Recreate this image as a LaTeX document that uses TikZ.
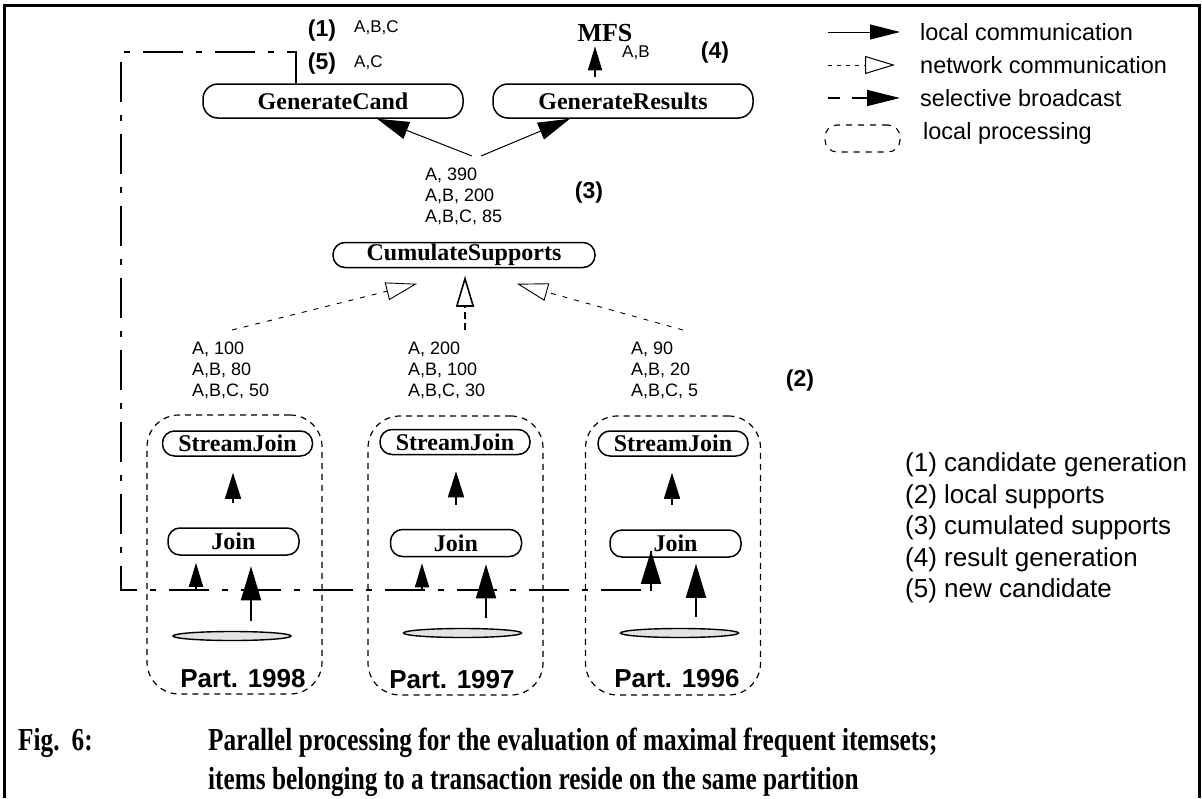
\documentclass[tikz,border=0pt]{standalone}
\usepackage{fontspec}
\setmainfont{Liberation Serif}
\setsansfont{Liberation Sans}
\newfontfamily\capfont[FakeStretch=0.79]{Liberation Serif}
\usetikzlibrary{arrows.meta,shapes.geometric,calc}
\newcommand\setpx[1]{\fontsize{#1pt}{#1pt}\selectfont}

\tikzset{
  proc/.style={draw, line width=1.5pt, rounded corners=12pt, inner sep=0pt,
    font=\setpx{24}\bfseries},
  tallproc/.style={proc, rounded corners=15pt, minimum width=260pt, minimum height=34pt},
  partbox/.style={draw, dash pattern=on 6pt off 5pt, line width=1.2pt,
    rounded corners=32pt, minimum width=175pt, minimum height=279pt},
  disk/.style={ellipse, draw, line width=1.4pt, fill=gray!22,
    minimum width=118pt, minimum height=9pt, inner sep=0pt},
  lab/.style={font=\sffamily\setpx{18}, align=left, anchor=north west, inner sep=0pt},
  small/.style={font=\sffamily\setpx{17}, inner sep=0pt},
  num/.style={font=\sffamily\bfseries\setpx{23}, inner sep=0pt},
  partlab/.style={font=\sffamily\bfseries\setpx{26}, inner sep=0pt},
  legtext/.style={font=\sffamily\setpx{23.5}, anchor=west, inner sep=0pt},
  listtext/.style={font=\sffamily\setpx{26}, anchor=west, inner sep=0pt},
  captext/.style={font=\capfont\bfseries\setpx{32}, anchor=base west, inner sep=0pt},
  loc/.style={line width=1pt, -{Triangle[length=32pt,width=18pt]}},
  upsmall/.style={line width=1.6pt, -{Triangle[length=24pt,width=14pt]}},
  upmid/.style={line width=1.6pt, -{Triangle[length=26pt,width=16pt]}},
  upbig/.style={line width=1.8pt, -{Triangle[length=34pt,width=20pt]}},
  net/.style={line width=0.9pt, dash pattern=on 5pt off 7pt,
    -{Triangle[open,length=31pt,width=18pt,fill=white]}},
  netv/.style={net, line width=1.6pt, dash pattern=on 7pt off 4pt},
  bcast/.style={line width=1.6pt, dash pattern=on 40pt off 13pt on 6pt off 13pt},
}

\begin{document}
\begin{tikzpicture}[x=1pt,y=-1pt]
\useasboundingbox (0,0) rectangle (1202,798);

% open frame
\draw[line width=3pt] (4,798) -- (4,5) -- (1199,5) -- (1199,798);

% ---- top level: candidate and result generation
\node[tallproc] (gc) at (333,101) {GenerateCand};
\node[tallproc] (gr) at (623,101) {GenerateResults};
\node[num] (n1) at (322,31) {(1)};
\node[small, anchor=west] (c1) at (354,28) {A,B,C};
\node[num] (n5) at (322,64) {(5)};
\node[small, anchor=west] (c5) at (354,63) {A,C};
\node[font=\setpx{26}\bfseries, inner sep=0pt] (mfs) at (605,33) {MFS};
\node[small, anchor=west] (mab) at (622,53) {A,B};
\node[num] (n4) at (715,53) {(4)};
\draw[upsmall, shorten <=6pt] ($(gr.north)+(-28,0)$) -- ($(gr.north)+(-28,-37)$);

% ---- cumulation
\node[proc, minimum width=262pt, minimum height=25pt] (cs) at (464,255) {CumulateSupports};
\node[lab] (sum) at (425,168) {A, 390\\[3pt]A,B, 200\\[3pt]A,B,C, 85};
\node[num] (n3) at (589,193) {(3)};
\coordinate (fl) at (472,156);
\coordinate (fr) at (481,156);
\draw[loc] (fl) -- ([xshift=44pt]gc.south);
\draw[loc] (fr) -- ([xshift=-53pt]gr.south);

% ---- network transfer of local supports
\coordinate (w1) at (232,330);
\coordinate (w2) at (465,330);
\coordinate (w3) at (683,330);
\draw[net] (w1) -- ([xshift=-47pt,yshift=-15.5pt]cs.south);
\draw[netv] (w2) -- ([xshift=1pt,yshift=-7.5pt]cs.south);
\draw[net] (w3) -- ([xshift=53pt,yshift=-15.5pt]cs.south);
\node[lab] (l1) at (192,342) {A, 100\\[3pt]A,B, 80\\[3pt]A,B,C, 50};
\node[lab] (l2) at (408,342) {A, 200\\[3pt]A,B, 100\\[3pt]A,B,C, 30};
\node[lab] (l3) at (631,342) {A, 90\\[3pt]A,B, 20\\[3pt]A,B,C, 5};
\node[num] (n2) at (800,381) {(2)};

% ---- partitions
\node[partbox] (p1) at (234.5,554.5) {};
\node[partbox] (p2) at (455.5,555.5) {};
\node[partbox] (p3) at (673,555.5) {};

\node[proc, minimum width=150pt, minimum height=25pt] (s1) at (237.5,443.5) {StreamJoin};
\node[proc, minimum width=150pt, minimum height=25pt] (s2) at (455,442) {StreamJoin};
\node[proc, minimum width=150pt, minimum height=25pt] (s3) at (673,443.5) {StreamJoin};
\node[proc, minimum width=131pt, minimum height=27pt] (j1) at (233.5,541.5) {Join};
\node[proc, minimum width=131pt, minimum height=27pt] (j2) at (456,543) {Join};
\node[proc, minimum width=131pt, minimum height=27pt] (j3) at (675.5,543.5) {Join};
\node[disk] (e1) at (232,636) {};
\node[disk] (e2) at (462.5,633) {};
\node[disk] (e3) at (679.5,633) {};
\node[partlab] (t1) at (243,679) {Part. 1998};
\node[partlab] (t2) at (452,680) {Part. 1997};
\node[partlab] (t3) at (677,679) {Part. 1996};

% join results passed up to the stream joins
\draw[upmid, shorten <=24pt, shorten >=16pt] ([xshift=-0.5pt]j1.north) -- ([xshift=-4.5pt]s1.south);
\draw[upmid, shorten <=24pt, shorten >=16pt] (j2.north) -- ([xshift=1pt]s2.south);
\draw[upmid, shorten <=24pt, shorten >=16pt] ([xshift=-3.5pt]j3.north) -- ([xshift=-1pt]s3.south);

% partition data read by the joins
\draw[upbig, shorten <=10pt, shorten >=10.5pt] ([xshift=19pt]e1.north) -- ([xshift=17.5pt]j1.south);
\draw[upbig, shorten <=10pt, shorten >=7pt] ([xshift=23.5pt]e2.north) -- ([xshift=30pt]j2.south);
\draw[upbig, shorten <=11pt, shorten >=6pt] ([xshift=16.5pt]e3.north) -- ([xshift=20.5pt]j3.south);

% ---- selective broadcast of new candidates
\coordinate (tl) at (121,52);
\coordinate (bl) at (121,590);
\coordinate (b1) at (196,590);
\coordinate (b2) at (422,590);
\draw[bcast] ([xshift=-37pt]gc.north) |- (tl) -- (bl) -| ([xshift=-24.5pt,yshift=7pt]j3.south);
\draw[line width=1.6pt, -{Triangle[length=33pt,width=20pt]}] ([xshift=-24.5pt,yshift=-33pt]j3.south) -- ([xshift=-24.5pt,yshift=7pt]j3.south);
\draw[upsmall, shorten >=7pt] (b1) -- (b1 |- j1.south);
\draw[upsmall, shorten >=6pt] (b2) -- (b2 |- j2.south);

% ---- legend
\coordinate (g1a) at (828,32);  \coordinate (g1b) at (900,32);
\coordinate (g2a) at (828,65);  \coordinate (g2b) at (895,65);
\coordinate (g3a) at (828,98);  \coordinate (g3m) at (840,98);
\coordinate (g3c) at (852,98);  \coordinate (g3b) at (900,98);
\draw[line width=1pt, -{Triangle[length=30pt,width=15pt]}] (g1a) -- (g1b);
\draw[line width=1pt, dash pattern=on 4pt off 5pt,
  -{Triangle[open,length=30pt,width=18pt,fill=white]}] (g2a) -- (g2b);
\draw[line width=1.6pt] (g3a) -- (g3m);
\draw[line width=1.6pt, -{Triangle[length=33pt,width=16pt]}] (g3c) -- (g3b);
\node[draw, dash pattern=on 6pt off 6pt, line width=1.1pt, rounded corners=12pt,
  minimum width=75pt, minimum height=27pt] (lp) at (862.5,138.5) {};
\node[legtext] (k1) at (920,32) {local communication};
\node[legtext] (k2) at (920,65) {network communication};
\node[legtext] (k3) at (920,98) {selective broadcast};
\node[legtext] (k4) at (923,133) {local processing};

% ---- phase list
\node[listtext] (q1) at (905,465) {(1) candidate generation};
\node[listtext] (q2) at (905,496.5) {(2) local supports};
\node[listtext] (q3) at (905,528) {(3) cumulated supports};
\node[listtext] (q4) at (905,559.5) {(4) result generation};
\node[listtext] (q5) at (905,591) {(5) new candidate};

% ---- caption
\node[captext] (fig) at (18,750) {Fig.\hspace{12pt}6:};
\node[captext] (cap1) at (208,750) {Parallel processing for the evaluation of maximal frequent itemsets;};
\node[captext] (cap2) at (208,789) {items belonging to a transaction reside on the same partition};
\end{tikzpicture}
\end{document}
